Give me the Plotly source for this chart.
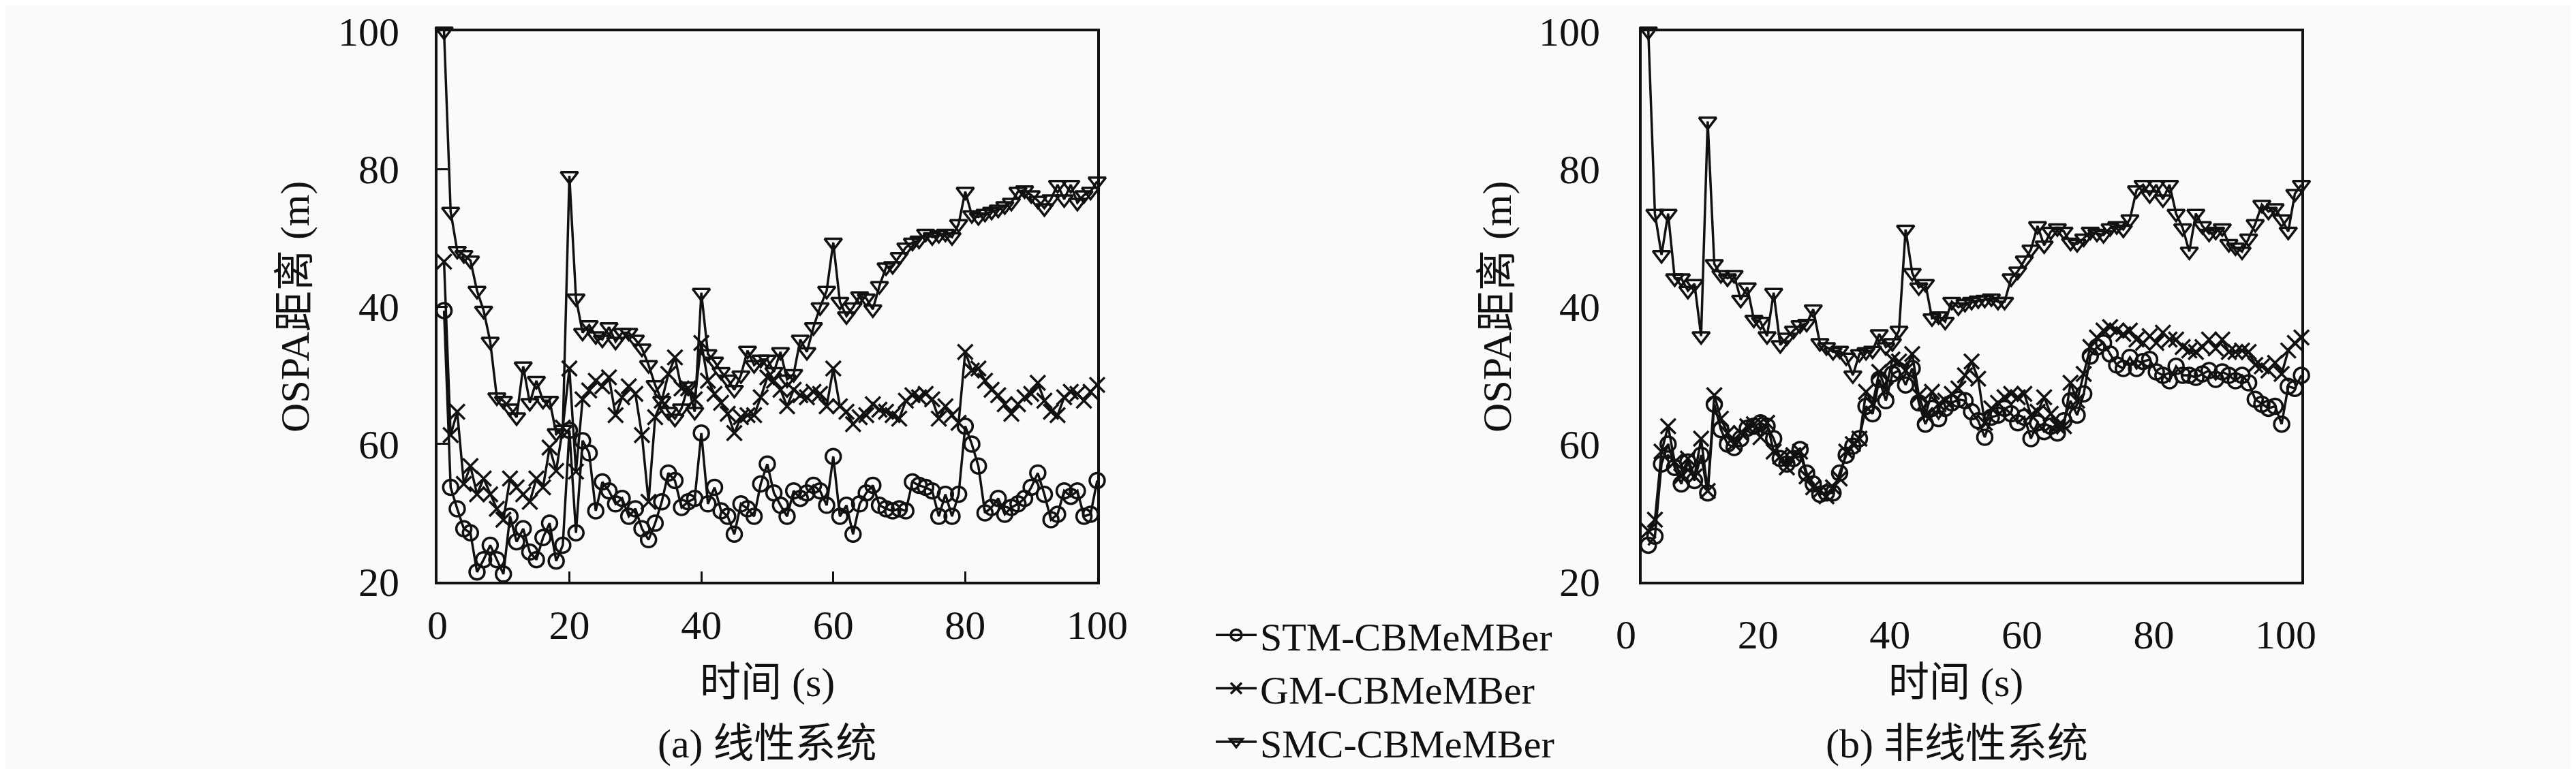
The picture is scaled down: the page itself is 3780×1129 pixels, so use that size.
import plotly.graph_objects as go

# time steps (s)
time_a = list(range(1, 101))
time_b = list(range(1, 101))

# y tick positions and the labels printed on them (as in the original figure)
y_tickvals = [20, 40, 60, 80, 100]
y_ticktext = ["20", "60", "40", "80", "100"]
x_tickvals = [0, 20, 40, 60, 80, 100]

# (a) linear system
stm_a = [59.4, 33.7, 30.6, 27.7, 27.1, 21.4, 23.2, 25.3, 23.2, 21.1, 29.5, 25.8, 27.7, 24.3, 23.2, 26.4, 28.5, 23.0, 25.3, 42.0,
         27.1, 40.5, 38.7, 30.3, 34.5, 33.2, 31.3, 32.1, 29.5, 30.6, 27.7, 26.1, 28.5, 31.6, 35.8, 34.7, 30.8, 31.6, 32.1, 41.6,
         31.3, 33.7, 30.3, 29.5, 26.9, 31.3, 30.6, 29.5, 34.2, 37.1, 32.9, 31.1, 29.5, 33.2, 32.1, 32.9, 34.0, 33.2, 31.1, 38.2,
         29.5, 31.1, 26.9, 31.3, 32.9, 34.0, 31.1, 30.6, 30.3, 30.6, 30.3, 34.5, 34.0, 33.7, 33.2, 29.5, 32.7, 29.5, 32.7, 42.6,
         40.0, 36.8, 30.0, 30.8, 32.1, 29.8, 30.8, 31.3, 32.1, 33.7, 35.8, 32.7, 29.0, 29.8, 33.2, 32.4, 33.2, 29.5, 29.8, 34.7]
gm_a = [66.5, 41.3, 44.7, 34.2, 36.8, 32.7, 35.0, 32.7, 30.6, 29.0, 35.0, 33.7, 32.7, 31.6, 35.0, 33.7, 39.5, 36.1, 42.4, 51.0,
        36.0, 46.5, 47.8, 49.2, 48.4, 49.7, 44.2, 46.8, 48.4, 47.3, 41.3, 31.6, 43.9, 46.3, 50.2, 52.6, 48.1, 48.1, 46.5, 54.7,
        49.2, 47.3, 46.0, 44.4, 41.6, 43.9, 44.2, 44.2, 46.8, 49.7, 49.2, 47.9, 45.5, 47.9, 47.1, 46.8, 47.6, 47.3, 45.5, 51.0,
        45.5, 44.7, 42.9, 43.9, 44.2, 45.8, 45.0, 44.7, 44.2, 43.7, 46.3, 47.1, 46.8, 47.3, 46.5, 43.7, 45.5, 44.2, 43.1, 53.4,
        50.7, 51.0, 49.2, 47.9, 47.1, 45.8, 44.4, 45.8, 46.8, 47.3, 48.9, 46.3, 44.7, 44.2, 46.8, 47.6, 47.3, 46.3, 47.6, 48.6]
smc_a = [100.0, 73.8, 68.1, 67.5, 66.7, 62.3, 59.4, 54.9, 46.8, 46.3, 45.2, 43.9, 51.3, 46.0, 49.2, 46.3, 46.3, 41.6, 42.1, 79.0,
         61.2, 56.2, 57.3, 55.7, 55.2, 57.0, 54.9, 56.2, 56.2, 55.2, 53.9, 51.5, 48.6, 46.3, 44.7, 43.7, 45.2, 48.4, 44.7, 62.0,
         53.1, 52.0, 50.5, 49.4, 47.9, 50.0, 53.6, 51.5, 52.3, 52.3, 50.5, 53.4, 49.4, 50.2, 55.2, 53.4, 57.0, 59.9, 62.3, 69.3,
         60.7, 58.6, 59.9, 61.5, 61.2, 59.6, 63.0, 65.7, 65.9, 67.2, 68.6, 69.3, 69.6, 70.6, 70.1, 70.4, 70.6, 70.1, 72.0, 76.7,
         73.3, 73.0, 73.5, 73.8, 74.1, 74.6, 75.1, 76.7, 76.9, 76.2, 75.4, 74.3, 75.6, 77.7, 75.6, 77.7, 75.1, 76.2, 76.7, 78.2]

# (b) nonlinear system
stm_b = [25.3, 26.6, 37.1, 40.0, 36.6, 34.2, 37.4, 34.7, 38.4, 32.9, 45.8, 42.1, 40.0, 39.5, 40.8, 42.3, 42.6, 43.1, 42.6, 40.8,
         37.9, 37.1, 37.9, 39.2, 35.8, 34.2, 32.7, 32.9, 32.9, 35.8, 38.4, 39.7, 40.8, 45.5, 44.4, 49.4, 46.3, 50.2, 50.7, 48.6,
         51.0, 46.0, 42.9, 45.2, 43.7, 45.2, 46.0, 46.5, 46.3, 44.7, 43.4, 41.0, 43.9, 44.2, 45.2, 44.4, 43.1, 43.9, 40.8, 43.1,
         41.8, 42.6, 41.6, 43.4, 46.3, 44.2, 47.3, 52.8, 54.1, 54.7, 53.1, 51.5, 51.0, 52.6, 51.0, 52.0, 52.3, 50.5, 50.0, 49.2,
         51.3, 50.0, 50.0, 49.7, 50.2, 50.7, 49.4, 50.5, 50.0, 49.2, 50.0, 48.9, 46.5, 45.8, 45.2, 45.5, 42.9, 48.4, 48.1, 50.0]
gm_b = [27.4, 29.0, 38.9, 42.6, 37.4, 35.3, 37.9, 35.3, 40.8, 33.2, 47.1, 43.7, 41.6, 40.0, 41.6, 42.6, 42.9, 41.0, 43.1, 38.9,
        38.2, 36.6, 38.4, 38.9, 35.3, 33.7, 33.2, 32.4, 33.7, 35.0, 38.9, 40.0, 40.8, 47.6, 45.8, 50.5, 47.9, 52.3, 52.0, 50.7,
        53.1, 47.1, 44.2, 47.6, 45.8, 46.3, 47.3, 48.1, 50.0, 52.0, 49.5, 43.1, 45.2, 46.0, 46.8, 47.3, 46.8, 47.3, 44.2, 44.7,
        46.8, 44.4, 42.6, 42.6, 48.9, 46.3, 50.2, 54.1, 55.5, 56.5, 57.0, 56.5, 56.0, 56.5, 55.2, 54.7, 55.7, 54.7, 56.2, 55.2,
        55.2, 54.1, 53.6, 53.4, 54.1, 55.2, 53.9, 55.2, 53.4, 53.4, 53.6, 53.4, 51.5, 51.3, 50.7, 51.8, 50.2, 53.6, 54.7, 55.5]
smc_b = [100.0, 73.5, 67.5, 73.5, 64.1, 64.1, 62.3, 63.3, 55.7, 86.9, 66.2, 64.6, 64.1, 64.6, 61.0, 62.8, 58.1, 57.8, 55.7, 62.0,
         54.4, 55.5, 56.5, 57.3, 57.5, 59.6, 54.7, 54.1, 53.4, 53.6, 52.6, 50.0, 53.1, 53.4, 53.6, 56.0, 54.1, 54.7, 56.5, 71.2,
         64.9, 62.8, 63.3, 58.3, 58.6, 57.8, 60.7, 59.9, 60.4, 60.7, 60.9, 61.0, 61.2, 60.7, 60.7, 64.1, 65.1, 66.7, 68.3, 71.7,
         68.9, 70.9, 71.4, 70.9, 69.3, 69.1, 69.9, 70.9, 70.6, 70.4, 71.4, 71.7, 71.2, 72.7, 76.9, 77.7, 76.2, 77.7, 75.6, 77.7,
         73.5, 71.4, 68.0, 73.5, 71.7, 70.6, 70.9, 71.4, 69.1, 68.6, 68.0, 69.9, 72.0, 74.8, 73.8, 74.3, 72.7, 70.9, 76.4, 77.7]

names = ["STM-CBMeMBer", "GM-CBMeMBer", "SMC-CBMeMBer"]
symbols = ["circle-open", "x-thin-open", "triangle-down-open"]

FONT = "Liberation Serif, Noto Sans CJK SC, serif"
INK = "#111111"
BG = "#fafafa"
FS = 60

fig = go.Figure()

panels = [
    ("x", "y", time_a, [stm_a, gm_a, smc_a], True),
    ("x2", "y2", time_b, [stm_b, gm_b, smc_b], False),
]
for xa, ya, t, series, show in panels:
    for name, sym, vals in zip(names, symbols, series):
        fig.add_trace(go.Scatter(
            x=t, y=vals, name=name, xaxis=xa, yaxis=ya,
            mode="lines+markers", showlegend=show, cliponaxis=False,
            line=dict(color=INK, width=3.5),
            marker=dict(symbol=sym, size=22, color=INK,
                        line=dict(color=INK, width=3.5)),
        ))

axis_common = dict(
    showgrid=False, zeroline=False, showline=True, mirror=True,
    linecolor=INK, linewidth=4,
    tickfont=dict(family=FONT, size=FS, color=INK),
)

fig.update_layout(
    width=3780, height=1129,
    margin=dict(l=0, r=0, t=0, b=0, autoexpand=False),
    paper_bgcolor=BG, plot_bgcolor=BG,
    font=dict(family=FONT, size=FS, color=INK),
    xaxis=dict(domain=[0.1677, 0.4238], range=[0, 100], tickvals=x_tickvals,
               ticks="inside", ticklen=15, tickwidth=3, tickcolor=INK,
               ticklabelstandoff=8, anchor="y", **axis_common),
    yaxis=dict(domain=[0.2507, 0.9663], range=[20, 100], tickvals=y_tickvals,
               ticktext=y_ticktext, ticks="inside", ticklen=15, tickwidth=3,
               tickcolor=INK, ticklabelstandoff=40, anchor="x", **axis_common),
    xaxis2=dict(domain=[0.6352, 0.8913], range=[0, 100], tickvals=x_tickvals,
                ticks="", ticklabelshift=-23, ticklabelstandoff=22,
                anchor="y2", **axis_common),
    yaxis2=dict(domain=[0.2507, 0.9663], range=[20, 100], tickvals=y_tickvals,
                ticktext=y_ticktext, ticks="", ticklabelstandoff=45,
                anchor="x2", **axis_common),
    legend=dict(x=1771 / 3780, y=1 - 880 / 1129, xanchor="left", yanchor="top",
                bgcolor="rgba(0,0,0,0)", itemwidth=60,
                font=dict(family=FONT, size=58, color=INK),
                tracegroupgap=0),
)

# axis titles and sub-figure captions
labels = [
    ("时间 (s)", 1118 / 3780, 1 - 994 / 1129, 0),
    ("(a) 线性系统", 1118 / 3780, 1 - 1084 / 1129, 0),
    ("时间 (s)", 2862 / 3780, 1 - 994 / 1129, 0),
    ("(b) 非线性系统", 2863 / 3780, 1 - 1084 / 1129, 0),
    ("OSPA距离 (m)", 425 / 3780, 1 - 442 / 1129, -90),
    ("OSPA距离 (m)", 2189 / 3780, 1 - 442 / 1129, -90),
]
for text, px, py, ang in labels:
    fig.add_annotation(text=text, x=px, y=py, xref="paper", yref="paper",
                       xanchor="center", yanchor="middle", showarrow=False,
                       textangle=ang, font=dict(family=FONT, size=FS, color=INK))

fig.write_html("out.html")
